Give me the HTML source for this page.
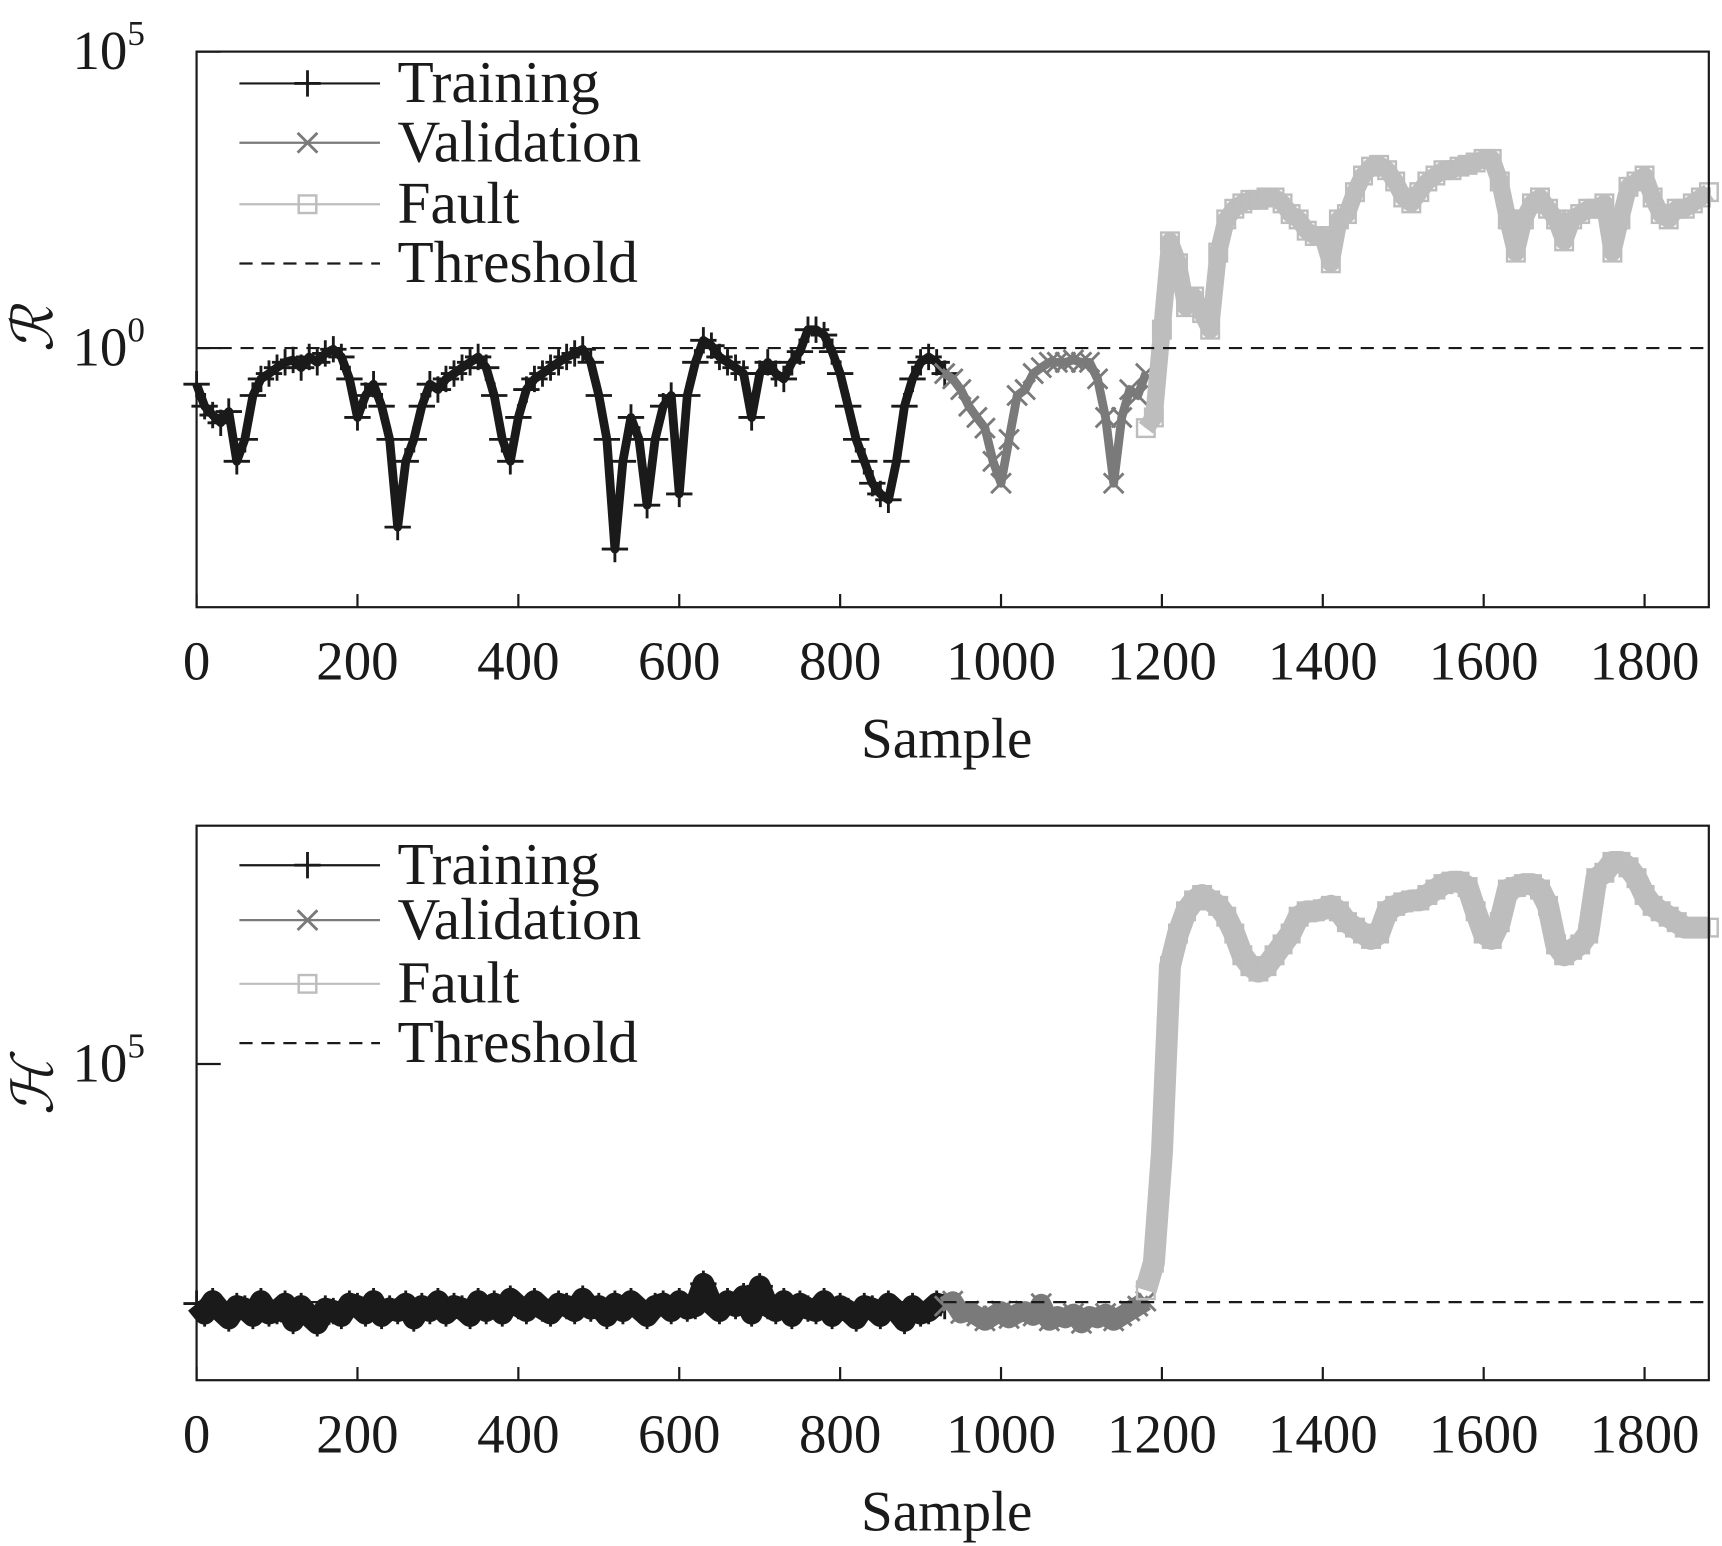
<!DOCTYPE html>
<html><head><meta charset="utf-8"><style>
html,body{margin:0;padding:0;background:#fff}
svg{display:block}
text{font-family:"Liberation Serif","DejaVu Serif",serif;fill:#1a1a1a}
</style></head><body>
<svg id="fig" width="1722" height="1546" viewBox="0 0 1568 1408" preserveAspectRatio="none" xmlns="http://www.w3.org/2000/svg">
<g id="p1"></g>
<g id="p2"></g>
</svg>
<script>
const xTicks=[0,200,400,600,800,1000,1200,1400,1600,1800];
const trainX=[0,10,20,30,40,50,60,70,80,90,100,110,120,130,140,150,160,170,180,190,200,210,220,230,240,250,260,270,280,290,300,310,320,330,340,350,360,370,380,390,400,410,420,430,440,450,460,470,480,490,500,510,520,530,540,550,560,570,580,590,600,610,620,630,640,650,660,670,680,690,700,710,720,730,740,750,760,770,780,790,800,810,820,830,840,850,860,870,880,890,900,910,920,930];
const trainR=[-0.61,-0.98,-1.13,-1.26,-1.07,-1.91,-1.54,-0.80,-0.52,-0.43,-0.33,-0.24,-0.20,-0.33,-0.15,-0.24,-0.09,-0.02,-0.15,-0.52,-1.17,-0.80,-0.61,-0.98,-1.54,-3.02,-1.91,-1.54,-0.98,-0.61,-0.70,-0.52,-0.43,-0.33,-0.24,-0.15,-0.33,-0.80,-1.54,-1.91,-1.17,-0.70,-0.52,-0.43,-0.33,-0.24,-0.15,-0.09,-0.02,-0.24,-0.80,-1.54,-3.39,-1.91,-1.17,-1.54,-2.65,-1.54,-0.98,-0.80,-2.46,-0.80,-0.24,0.13,0.04,-0.15,-0.24,-0.33,-0.43,-1.17,-0.43,-0.24,-0.43,-0.52,-0.24,-0.06,0.31,0.31,0.22,-0.06,-0.43,-0.98,-1.54,-1.91,-2.28,-2.46,-2.56,-1.91,-0.98,-0.52,-0.24,-0.15,-0.24,-0.43];
const valX=[930,940,950,960,970,980,990,1000,1010,1020,1030,1040,1050,1060,1070,1080,1090,1100,1110,1120,1130,1140,1150,1160,1170,1180];
const valR=[-0.43,-0.52,-0.70,-0.98,-1.17,-1.35,-1.91,-2.28,-1.54,-0.80,-0.70,-0.43,-0.33,-0.24,-0.24,-0.24,-0.20,-0.24,-0.24,-0.52,-1.17,-2.28,-1.17,-0.70,-0.80,-0.43];
const faultX=[1180,1190,1200,1210,1220,1230,1240,1250,1260,1270,1280,1290,1300,1310,1320,1330,1340,1350,1360,1370,1380,1390,1400,1410,1420,1430,1440,1450,1460,1470,1480,1490,1500,1510,1520,1530,1540,1550,1560,1570,1580,1590,1600,1610,1620,1630,1640,1650,1660,1670,1680,1690,1700,1710,1720,1730,1740,1750,1760,1770,1780,1790,1800,1810,1820,1830,1840,1850,1860,1870,1880];
const faultR=[-1.35,-1.17,0.31,1.80,1.43,0.69,0.87,0.59,0.31,1.61,2.17,2.35,2.44,2.50,2.50,2.54,2.54,2.44,2.26,2.17,1.98,1.89,1.89,1.43,2.17,2.26,2.63,2.91,3.06,3.09,3.00,2.81,2.54,2.44,2.63,2.81,2.91,3.00,3.00,3.06,3.09,3.13,3.19,3.19,2.81,2.17,1.61,2.17,2.44,2.54,2.35,2.17,1.80,2.17,2.26,2.35,2.35,2.44,1.61,2.17,2.72,2.81,2.91,2.54,2.26,2.17,2.35,2.35,2.44,2.54,2.63];
const thresholdR=0;
const trainH=[0.15,-0.05,0.2,0.0,-0.15,0.1,0.05,-0.1,0.2,-0.05,0.0,0.15,-0.2,0.1,-0.1,-0.25,0.05,0.0,-0.1,0.15,0.1,-0.05,0.2,-0.1,0.05,0.0,0.15,-0.15,0.1,0.0,0.2,-0.05,0.1,0.05,-0.1,0.2,0.0,0.15,-0.05,0.25,0.1,0.0,0.2,0.05,-0.05,0.15,0.1,0.0,0.25,0.05,0.1,-0.1,0.15,0.0,0.2,0.05,-0.1,0.1,0.15,0.0,0.2,0.05,0.1,0.55,0.15,0.0,0.2,0.1,0.3,-0.05,0.5,0.1,0.0,0.2,-0.1,0.15,0.05,0.0,0.2,-0.1,0.1,0.0,-0.15,0.1,0.05,-0.1,0.15,0.0,-0.2,0.1,-0.05,0.0,0.15,0.1];
const valH=[0.1,0.2,-0.05,0.0,-0.1,-0.2,-0.1,0.0,-0.15,-0.05,0.0,-0.1,0.15,-0.2,-0.1,-0.15,-0.05,-0.25,-0.1,-0.15,-0.05,-0.2,-0.1,0.0,0.1,0.2];
const faultH=[0.42,0.98,3.2,6.98,7.64,8.09,8.31,8.42,8.31,8.2,7.98,7.64,7.2,6.98,6.87,6.98,7.2,7.42,7.64,7.98,8.09,8.09,8.13,8.2,8.09,7.87,7.76,7.64,7.53,7.64,8.09,8.2,8.27,8.31,8.31,8.42,8.53,8.64,8.69,8.69,8.58,8.09,7.64,7.53,7.87,8.53,8.58,8.64,8.64,8.53,8.2,7.42,7.2,7.31,7.42,7.64,8.76,8.87,9.09,9.09,8.98,8.76,8.42,8.2,8.09,7.98,7.87,7.76,7.76,7.76,7.76];
const thresholdH=0.18;

const NS="http://www.w3.org/2000/svg";
function mk(parent,tag,attrs,txt){const e=document.createElementNS(NS,tag);for(const k in attrs)e.setAttribute(k,attrs[k]);if(txt!==undefined)e.textContent=txt;parent.appendChild(e);return e;}
const X0=179,X1=1556,pxPerSample=146.5/200;
const sx=v=>X0+v*pxPerSample;

function marker(g,type,x,y,col){
  if(type==='plus'){mk(g,'path',{d:`M${x-12},${y}H${x+12}M${x},${y-12}V${y+12}`,stroke:col,'stroke-width':2.6,fill:'none'});}
  else if(type==='x'){mk(g,'path',{d:`M${x-9},${y-9}L${x+9},${y+9}M${x-9},${y+9}L${x+9},${y-9}`,stroke:col,'stroke-width':2.6,fill:'none'});}
  else{mk(g,'rect',{x:x-8,y:y-8,width:16,height:16,stroke:col,'stroke-width':2.2,fill:'none'});}
}
function series(g,name,xs,ys,sy,col,type,lw){
  const sg=mk(g,'g',{});
  
  
  let d='';xs.forEach((x,i)=>{d+=(i?'L':'M')+sx(x).toFixed(1)+','+sy(ys[i]).toFixed(1);});
  mk(sg,'path',{d:d,stroke:col,'stroke-width':lw,fill:'none','stroke-linejoin':'round'});
  xs.forEach((x,i)=>marker(sg,type,sx(x),sy(ys[i]),col));
}
function panel(g,Y0,Y1,sy,yTicks,ylab,sets,thr,legY,lws){
  series(g,'training-series',trainX,sets[0],sy,'#1a1a1a','plus',lws[0]);
  series(g,'validation-series',valX,sets[1],sy,'#7a7a7a','x',lws[1]);
  series(g,'fault-series',faultX,sets[2],sy,'#bdbdbd','square',lws[2]);
  const th=mk(g,'line',{x1:X0,x2:X1,y1:sy(thr),y2:sy(thr),stroke:'#1a1a1a','stroke-width':2,'stroke-dasharray':'12,8'});
  
  
  const fr=mk(g,'rect',{x:X0,y:Y0,width:X1-X0,height:Y1-Y0,fill:'none',stroke:'#1a1a1a','stroke-width':2});
  
  
  xTicks.forEach(t=>{
    mk(g,'line',{x1:sx(t),x2:sx(t),y1:Y1,y2:Y1-12,stroke:'#1a1a1a','stroke-width':2});
    const tl=mk(g,'text',{x:sx(t),y:Y1+66,'font-size':50,'text-anchor':'middle'},String(t));
    
    
  });
  yTicks.forEach(t=>{
    mk(g,'line',{x1:X0,x2:X0+22,y1:sy(t),y2:sy(t),stroke:'#1a1a1a','stroke-width':2});
    const tl=mk(g,'text',{x:66,y:sy(t)+16,'font-size':50},'10');
    
    
    mk(tl,'tspan',{dy:-22,'font-size':32},String(t));
  });
  const xt=mk(g,'text',{x:862,y:Y1+137,'font-size':52,'text-anchor':'middle'},'Sample');
  
  
  const yt=mk(g,'text',{x:0,y:0,'font-size':52,'font-style':'italic','text-anchor':'middle',transform:`translate(48,${ylab[1]}) rotate(-90)`},ylab[0]);
  
  
  const lg=mk(g,'g',{});
  
  
  const items=[['Training','#1a1a1a','plus'],['Validation','#7a7a7a','x'],['Fault','#bdbdbd','square'],['Threshold','#1a1a1a','dash']];
  items.forEach((it,i)=>{
    const y=legY[i];
    const e=mk(lg,'g',{});
    
    
    mk(e,'line',{x1:218,x2:346,y1:y,y2:y,stroke:it[1],'stroke-width':2,'stroke-dasharray':it[2]==='dash'?'12,8':'none'});
    if(it[2]!=='dash')marker(e,it[2],280,y,it[1]);
    mk(e,'text',{x:362,y:y+17,'font-size':54},it[0]);
  });
}
const R0=47,R1=553,dec1=54,yR=317;
const syR=v=>yR-v*dec1;
panel(document.getElementById('p1'),R0,R1,syR,[0,5],['ℛ',300],[trainR,valR,faultR],thresholdR,[76,130,186,240],[8,8,16]);
const H0=752,H1=1257,dec2=45;
const syH=v=>969-(v-5)*dec2;
panel(document.getElementById('p2'),H0,H1,syH,[5],['ℋ',990],[trainH,valH,faultH],thresholdH,[788,838,896,950],[20,18,20]);
</script>
</body></html>
